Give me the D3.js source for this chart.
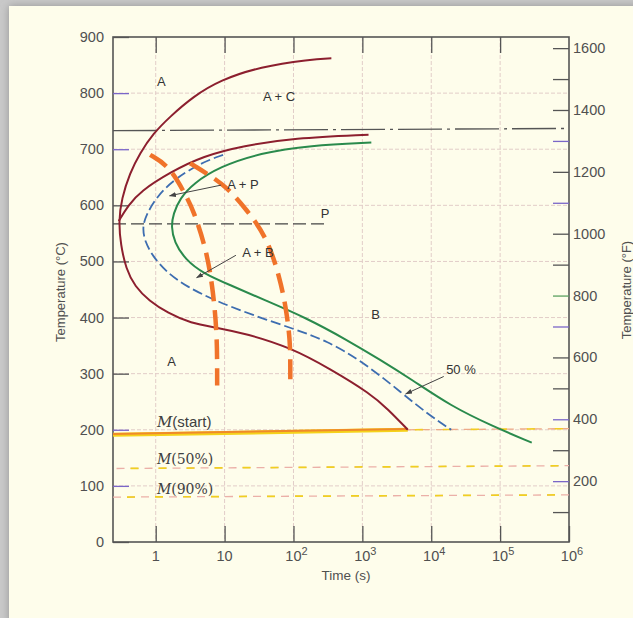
<!DOCTYPE html>
<html><head><meta charset="utf-8">
<script src="https://cdn.jsdelivr.net/npm/d3@7"></script>
<style>html,body{margin:0;padding:0;background:#c9c9c9;}svg{display:block;}</style>
</head><body>
<script>
// ---- data (time in s, temperature in °C) ----
const xTickExps = [0, 1, 2, 3, 4, 5, 6];
const yTicksC = [0, 100, 200, 300, 400, 500, 600, 700, 800, 900];
const yTicksF = [200, 400, 600, 800, 1000, 1200, 1400, 1600];
const yMinorF = [100, 300, 500, 700, 900, 1100, 1300, 1500];
const tintedC = [100, 200, 700, 800];
const tintedF = [200, 400, 700, 1100, 1300];
const greenF = [800];

const startCurve = [[355,862],[174,860],[32.7,847],[8.57,823],[3.51,794],[1.61,758],[0.92,728],[0.59,693],[0.42,657],[0.32,612],[0.29,572],[0.31,530],[0.37,487],[0.5,455],[0.8,430],[1.5,408],[3.2,390],[7.7,382],[20.9,371],[89,347],[347,308],[1318,264],[2340,237],[4570,200]];
const pearliteStart = [[0.29,572],[0.4,600],[0.6,625],[1.62,659],[4.9,688],[18.6,706],[100,720],[1230,726]];
const fifty = [[9.5,690],[4.4,675],[1.8,645],[1.03,615],[0.72,582],[0.64,560],[0.7,535],[0.9,510],[1.4,482],[2.8,455],[7.7,429],[26,404],[100,380],[300,359],[1000,322],[3890,264],[8710,229],[19500,200]];
const finish = [[1350,712],[174,707],[32.4,693],[8.5,669],[3.5,639],[2.24,612],[1.8,585],[1.68,562],[1.85,535],[2.7,503],[5.0,478],[12,458],[40,430],[150,400],[600,360],[1800,325],[5130,290],[19500,242],[75900,207],[288000,177]];
const cooling1 = [[0.83,690],[1.62,669],[2.8,615],[3.5,592],[5.5,520],[6.9,443],[7.7,372],[7.8,320],[7.8,279]];
const cooling2 = [[3.16,675],[5.5,657],[10.7,633],[21,592],[40.7,544],[63,473],[79,413],[89,360],[90,320],[90,281]];
const eutectoid = [[0.24,733],[1e6,737]];
const pLine = [[0.24,567],[327,567]];
const mStart = [[0.24,191],[4570,200]];
const mStartRest = [[4570,200],[1e6,202]];
const m50 = [[0.27,131],[1e6,136]];
const m90 = [[0.24,80],[1e6,84]];

const regionLabels = [["A",1.21,821],["A + C",61.7,795],["A + P",18.5,638],["P",287,586],["A + B",30.5,517],["B",1550,406],["A",1.7,323],["50 %",27000,308]];
const arrows = [[[8.9,636],[1.59,617]],[[14.6,511],[3.93,471]],[[15200,295],[4260,264]]];
const mLabels = [["(start)",1.04,205],["(50%)",1.04,139],["(90%)",1.04,86]];

// ---- layout ----
const W = 633, H = 618;
const L = 113, R = 569, T = 37, B = 542;
const svg = d3.select("body").append("svg").attr("width", W).attr("height", H);
const defs = svg.append("defs");
const f = defs.append("filter").attr("id","sh").attr("x","-5%").attr("y","-5%").attr("width","110%").attr("height","110%");
f.append("feDropShadow").attr("dx",0).attr("dy",0).attr("stdDeviation",4).attr("flood-color","#888").attr("flood-opacity",0.8);
defs.append("marker").attr("id","ah").attr("viewBox","0 0 10 10").attr("refX",9).attr("refY",5)
  .attr("markerWidth",7).attr("markerHeight",7).attr("orient","auto-start-reverse")
  .append("path").attr("d","M0,1.5 L10,5 L0,8.5 Z").attr("fill","#444");

svg.append("rect").attr("x",9).attr("y",6).attr("width",W).attr("height",H).attr("fill","#fefdeb").attr("filter","url(#sh)");

const x = d3.scaleLog().domain([Math.pow(10,-0.62), 1e6]).range([L, R]);
const y = d3.scaleLinear().domain([0, 900]).range([B, T]);
const yF = d3.scaleLinear().domain([0, 1636]).range([B+1, T]);

const g = svg.append("g");
// grid
g.selectAll(".vg").data(xTickExps.slice(0,6)).enter().append("line")
  .attr("x1",d=>x(Math.pow(10,d))).attr("x2",d=>x(Math.pow(10,d))).attr("y1",T).attr("y2",B)
  .attr("stroke","#e2cdc8").attr("stroke-width",1).attr("stroke-dasharray","4,2");
g.selectAll(".hg").data(yTicksC.slice(1,9)).enter().append("line")
  .attr("x1",L).attr("x2",R).attr("y1",d=>y(d)).attr("y2",d=>y(d))
  .attr("stroke","#e2cdc8").attr("stroke-width",1).attr("stroke-dasharray","4,2");

// frame
g.append("rect").attr("x",L).attr("y",T).attr("width",R-L).attr("height",B-T)
  .attr("fill","none").attr("stroke","#555").attr("stroke-width",1.6);

// axes ticks
const styleAx = s=>{s.select(".domain").remove();s.selectAll("line").attr("stroke","#555").attr("stroke-width",1.3);};
g.append("g").attr("transform",`translate(${L},0)`).call(d3.axisRight(y).tickValues(yTicksC).tickSize(16).tickFormat("")).call(styleAx)
  .selectAll(".tick line").attr("stroke",d=>tintedC.includes(d)?"#7a66c8":"#555");
g.append("g").attr("transform",`translate(0,${B})`).call(d3.axisTop(x).tickValues(xTickExps.map(e=>Math.pow(10,e))).tickSize(16).tickFormat("")).call(styleAx);
g.append("g").attr("transform",`translate(0,${T})`).call(d3.axisBottom(x).tickValues(xTickExps.slice(0,6).map(e=>Math.pow(10,e))).tickSize(16).tickFormat("")).call(styleAx);
g.append("g").attr("transform",`translate(${R},0)`).call(d3.axisLeft(yF).tickValues(yTicksF.concat(yMinorF)).tickSize(16).tickFormat("")).call(styleAx)
  .selectAll(".tick line").attr("stroke",d=>tintedF.includes(d)?"#7a66c8":(greenF.includes(d)?"#5aa060":"#555"));

// tick labels
const lab = svg.append("g").attr("font-family","Liberation Sans, Arial, sans-serif").attr("fill","#505050");
lab.selectAll(".yl").data(yTicksC).enter().append("text")
  .attr("x",104).attr("y",d=>y(d)+5).attr("text-anchor","end").attr("font-size",14.5).text(d=>d);
lab.selectAll(".yr").data(yTicksF).enter().append("text")
  .attr("x",573).attr("y",d=>yF(d)+5).attr("text-anchor","start").attr("font-size",14.5).text(d=>d);
xTickExps.forEach(e=>{
  const t = lab.append("text").attr("x",x(Math.pow(10,e))+(e>=2?3:0)).attr("y",561).attr("text-anchor","middle").attr("font-size",14.5);
  if(e===0) t.text("1"); else if(e===1) t.text("10");
  else { t.append("tspan").text("10"); t.append("tspan").attr("dy",-6).attr("font-size",11).text(e); }
});
lab.append("text").attr("x",346).attr("y",580).attr("text-anchor","middle").attr("font-size",13.5).text("Time (s)");
lab.append("text").attr("transform","translate(65,292) rotate(-90)").attr("text-anchor","middle").attr("font-size",13).text("Temperature (°C)");
lab.append("text").attr("transform","translate(631,290) rotate(-90)").attr("text-anchor","middle").attr("font-size",13).text("Temperature (°F)");

// lines
const line = d3.line().x(d=>x(d[0])).y(d=>y(d[1])).curve(d3.curveBasis);
const straight = d3.line().x(d=>x(d[0])).y(d=>y(d[1]));
const P = svg.append("g").attr("fill","none");

P.append("path").attr("d",straight(eutectoid)).attr("stroke","#555").attr("stroke-width",1.3).attr("stroke-dasharray","44,5,3,5");
P.append("path").attr("d",straight(pLine)).attr("stroke","#444").attr("stroke-width",1.3).attr("stroke-dasharray","13,5");

// martensite lines
P.append("path").attr("d",straight(mStart)).attr("stroke","#f5d21a").attr("stroke-width",4);
P.append("path").attr("d",straight(mStart)).attr("stroke","#ef8a2a").attr("stroke-width",2).attr("transform","translate(0,-0.8)");
P.append("path").attr("d",straight(mStartRest)).attr("stroke","#eeaa88").attr("stroke-width",1.3).attr("stroke-dasharray","8,6");
P.append("path").attr("d",straight(mStartRest)).attr("stroke","#f2cc20").attr("stroke-width",1.6).attr("stroke-dasharray","8,20").attr("stroke-dashoffset",-7);
[m50, m90].forEach(m=>{
  P.append("path").attr("d",straight(m)).attr("stroke","#ebb0a8").attr("stroke-width",1.3).attr("stroke-dasharray","8,6");
  P.append("path").attr("d",straight(m)).attr("stroke","#f0d020").attr("stroke-width",1.7).attr("stroke-dasharray","8,20").attr("stroke-dashoffset",-14);
});

P.append("path").attr("d",line(startCurve)).attr("stroke","#8c1f2e").attr("stroke-width",2);
P.append("path").attr("d",line(pearliteStart)).attr("stroke","#8c1f2e").attr("stroke-width",2);
P.append("path").attr("d",line(fifty)).attr("stroke","#3d6db0").attr("stroke-width",1.8).attr("stroke-dasharray","10,4");
P.append("path").attr("d",line(finish)).attr("stroke","#2a8a4c").attr("stroke-width",2);

// cooling curves
[cooling1, cooling2].forEach(c=>{
  P.append("path").attr("d",line(c)).attr("stroke","#f0732a").attr("stroke-width",4.5).attr("stroke-dasharray","20,9");
});

// arrows
arrows.forEach(a=>{
  P.append("path").attr("d",straight(a)).attr("stroke","#444").attr("stroke-width",1).attr("marker-end","url(#ah)");
});

// region labels
const rl = svg.append("g").attr("font-family","Liberation Sans, Arial, sans-serif").attr("fill","#333").attr("font-size",13);
rl.selectAll("text").data(regionLabels).enter().append("text")
  .attr("x",d=>x(d[1])).attr("y",d=>y(d[2])+5).attr("text-anchor","middle").text(d=>d[0]);

// M labels
const mt = svg.append("g").attr("fill","#404040");
mLabels.forEach((m,i)=>{
  const t = mt.append("text").attr("x",x(m[1])).attr("y",y(m[2])).attr("font-size",i===0?15:14);
  t.append("tspan").attr("font-family","DejaVu Serif, serif").attr("font-style","italic").text("M");
  t.append("tspan").attr("font-family", i===0 ? "Liberation Sans, sans-serif" : "DejaVu Serif, serif").text(m[0]);
});
</script>
</body></html>
